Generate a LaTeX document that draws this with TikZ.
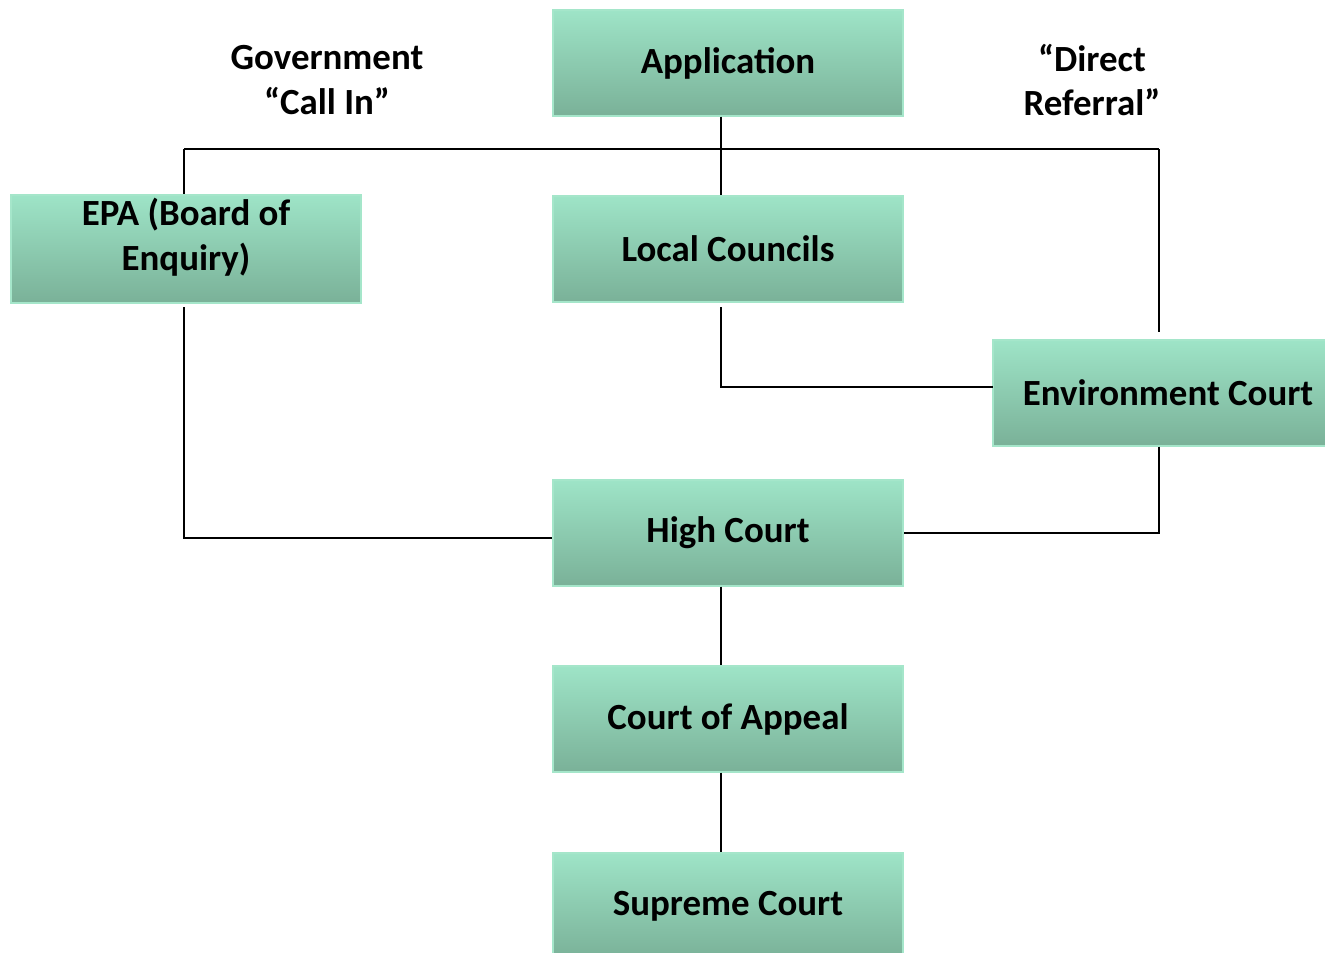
\documentclass[tikz,border=0pt]{standalone}
\usepackage{fontspec}
\setmainfont{Carlito}
\usetikzlibrary{positioning,calc}

\definecolor{mintTop}{RGB}{158,228,199}
\definecolor{mintMid}{RGB}{150,218,189}
\definecolor{mintBot}{RGB}{122,177,152}
\definecolor{mintEdge}{RGB}{165,230,202}

\begin{document}
\begin{tikzpicture}[
  x=0.02cm, y=-0.02cm,
  font=\fontsize{21}{25.5}\selectfont\bfseries,
  court/.style={draw=mintEdge, line width=0.8pt, top color=mintTop, middle color=mintMid,
                bottom color=mintBot, align=center, minimum width=7cm, minimum height=2.12cm,
                inner sep=2pt},
  note/.style={align=center, inner sep=0pt},
  link/.style={draw=black, line width=1.1pt}
]
\useasboundingbox (0,0) rectangle (1325,953);
\clip (0,0) rectangle (1325,953);

% boxes
\node[court] (app) at (728,63) {Application};
\node[court] (lc) at (728,249) {Local Councils};
\node[court] (epa) at (186,249) {EPA (Board of\\Enquiry)\\[-9pt]\mbox{}};
\node[court] (env) at (1168,393) {Environment Court};
\node[court] (hc) at (728,533) {High Court};
\node[court] (ca) at (728,719) {Court of Appeal};
\node[court] (sc) at (728,906) {Supreme Court};

% side labels
\node[note] (callin) at (327,80) {Government\\“Call In”};
\node[note] (direct) at (1092,80) {“Direct\\Referral”};

% routing points
\coordinate (spine) at (721,149);
\coordinate (left) at (184,149);
\coordinate (right) at (1159,149);
\coordinate (envtop) at (1159,332);
\coordinate (envin) at (993,387);
\coordinate (lcout) at (721,307);
\coordinate (epaout) at (184,307);

\draw[link] (app.south -| spine) -- (lc.north -| spine);
\draw[link] (left) -- (right);
\draw[link] (left) -- (epa.north -| left);
\draw[link] (right) -- (envtop);
\draw[link] (lcout) |- (envin);
\draw[link] (epaout) |- ($(hc.west)+(0,5)$);
\draw[link] (env.south -| right) |- (hc.east);
\draw[link] (hc.south -| spine) -- (ca.north -| spine);
\draw[link] (ca.south -| spine) -- (sc.north -| spine);
\end{tikzpicture}
\end{document}
